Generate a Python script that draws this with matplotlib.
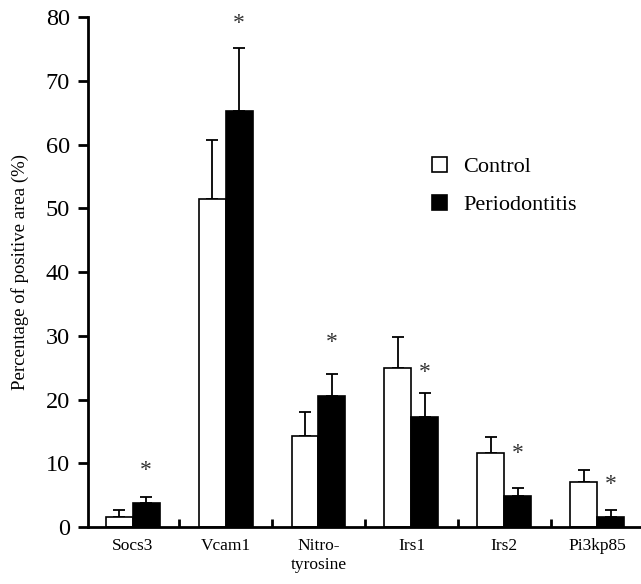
import numpy as np
import matplotlib
matplotlib.use("Agg")
import matplotlib.pyplot as plt

plt.rcParams["font.family"] = ["Liberation Serif", "DejaVu Serif"]

genes = ["Socs3", "Vcam1", "Nitro-\ntyrosine", "Irs1", "Irs2", "Pi3kp85"]
control = [1.5, 51.5, 14.3, 25.0, 11.6, 7.1]
control_err = [1.2, 9.2, 3.7, 4.8, 2.6, 1.9]
perio = [3.7, 65.3, 20.6, 17.3, 4.9, 1.5]
perio_err = [1.0, 9.9, 3.4, 3.7, 1.2, 1.2]
star_y = [8.9, 79.0, 29.0, 24.3, 11.5, 6.7]

x = np.arange(len(genes))
w = 0.29

fig = plt.figure(figsize=(6.41, 5.84), dpi=100)
ax = fig.add_axes([0.1373, 0.0976, 0.8627, 0.873])

ax.bar(x - w / 2, control, w, color="white", edgecolor="black", linewidth=1.2,
       label="Control", zorder=2)
ax.bar(x + w / 2, perio, w, color="black", edgecolor="black", linewidth=1.2,
       label="Periodontitis", zorder=2)
ax.errorbar(x - w / 2, control, yerr=[np.zeros(len(x)), control_err], fmt="none",
            ecolor="black", elinewidth=1.3, capsize=4.5, capthick=1.3, zorder=1)
ax.errorbar(x + w / 2, perio, yerr=[np.zeros(len(x)), perio_err], fmt="none",
            ecolor="black", elinewidth=1.3, capsize=4.5, capthick=1.3, zorder=1)

for xi, yi in zip(x, star_y):
    ax.text(xi + w / 2, yi, "*", ha="center", va="center", fontsize=17,
            color="#333333")

ax.set_xlim(-0.48, 5.47)
ax.set_ylim(0, 80)
ax.set_yticks(range(0, 81, 10))
ax.tick_params(axis="y", labelsize=17.5, direction="out", length=7, width=2, pad=6)
ax.set_xticks(x)
ax.set_xticklabels(genes, fontsize=12.5)
ax.tick_params(axis="x", length=0, pad=8)
ax.set_xticks(x[:-1] + 0.5, minor=True)
ax.tick_params(axis="x", which="minor", direction="in", length=6, width=2)

for s in ["top", "right"]:
    ax.spines[s].set_visible(False)
for s in ["left", "bottom"]:
    ax.spines[s].set_linewidth(2)

ax.set_ylabel("Percentage of positive area (%)", fontsize=13.5, labelpad=12)

ax.legend(loc="upper left", bbox_to_anchor=(0.586, 0.765), frameon=False,
          fontsize=16, handlelength=0.65, handleheight=0.65, handletextpad=0.75,
          labelspacing=0.8)

fig.savefig("out.png", dpi=100)
